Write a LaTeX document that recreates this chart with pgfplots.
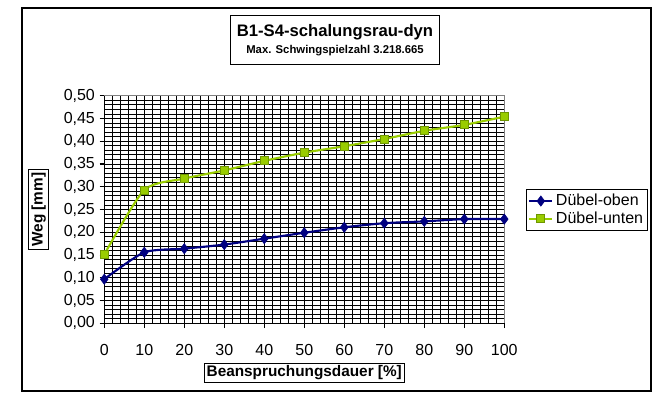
\documentclass[border=0pt]{standalone}
\usepackage{fontspec}
\setmainfont{Liberation Sans}
\usepackage{pgfplots}
\pgfplotsset{compat=1.18}

\definecolor{obenblue}{RGB}{0,0,128}
\definecolor{untengreen}{RGB}{153,204,0}
\definecolor{untendark}{RGB}{110,150,0}

% Weg ueber Beanspruchungsdauer
\pgfplotstableread{
x    oben   unten
0    0.097  0.151
10   0.156  0.293
20   0.164  0.318
30   0.173  0.336
40   0.186  0.357
50   0.199  0.375
60   0.211  0.389
70   0.220  0.405
80   0.224  0.423
90   0.229  0.436
100  0.229  0.454
}\datatable

\begin{document}
\begin{tikzpicture}[x=0.75pt,y=0.75pt]
  \useasboundingbox (0,0) rectangle (655,394);
  \draw[line width=0.9pt] (22,386) rectangle (651,3);

  \begin{axis}[
      at={(78.2pt,53pt)}, anchor=south west,
      scale only axis,
      width=300pt, height=170.7pt,
      xmin=0, xmax=100, ymin=0, ymax=0.5,
      xtick={0,10,...,100},
      ytick={0,0.05,...,0.5},
      minor x tick num=4,
      minor y tick num=4,
      grid=both,
      major grid style={black, line width=0.65pt},
      minor grid style={black, line width=0.65pt},
      axis x line*=bottom, axis y line*=left,
      axis line style={black, line width=0.8pt},
      tick align=outside,
      major tick length=3.5pt, minor tick length=0pt,
      tick style={black, line width=0.8pt},
      tick label style={font=\fontsize{12}{14}\selectfont},
      /pgf/number format/assume math mode=true,
      y tick label style={/pgf/number format/.cd, fixed, fixed zerofill, precision=2, use comma},
      x tick label style={yshift=-9pt},
      xlabel={Beanspruchungsdauer [\%]},
      ylabel={Weg [mm]},
      xlabel style={draw, line width=0.8pt, inner sep=2pt, font=\bfseries\fontsize{11.5}{13}\selectfont,
                    at={(axis description cs:0.5,-0.218)}, anchor=center},
      ylabel style={draw, line width=0.8pt, inner sep=2pt, font=\bfseries\fontsize{11.5}{13}\selectfont,
                    at={(axis description cs:-0.164,0.5)}, anchor=center},
      legend style={at={(axis description cs:1.054,0.59)}, anchor=north west,
                    draw=black, line width=0.8pt, font=\fontsize{12}{14}\selectfont,
                    row sep=-1pt, inner sep=1.5pt, cells={anchor=west}},
      legend cell align=left,
      clip=false,
    ]
    \draw[gray, line width=1pt] (rel axis cs:0,1) -- (rel axis cs:1,1) -- (rel axis cs:1,0);

    \addplot[obenblue, line width=1.6pt, smooth, tension=0.4,
             mark=diamond*, mark size=3.8pt, mark options={fill=obenblue, draw=obenblue, line width=0.5pt}]
      table[x=x, y=oben] {\datatable};
    \addlegendentry{Dübel-oben}

    \addplot[untengreen, line width=1.6pt, smooth, tension=0.4,
             mark=square*, mark size=3pt, mark options={fill=untengreen, draw=untendark, line width=0.6pt}]
      table[x=x, y=unten] {\datatable};
    \addlegendentry{Dübel-unten}
  \end{axis}

  \node[draw, line width=0.9pt, minimum width=157pt, minimum height=37pt, inner sep=1pt,
        align=center] at (335,354)
    {{\bfseries\fontsize{12.5}{15}\selectfont B1-S4-schalungsrau-dyn}\\[1pt]
     {\bfseries\fontsize{8.5}{10}\selectfont Max. Schwingspielzahl 3.218.665}};
\end{tikzpicture}
\end{document}
